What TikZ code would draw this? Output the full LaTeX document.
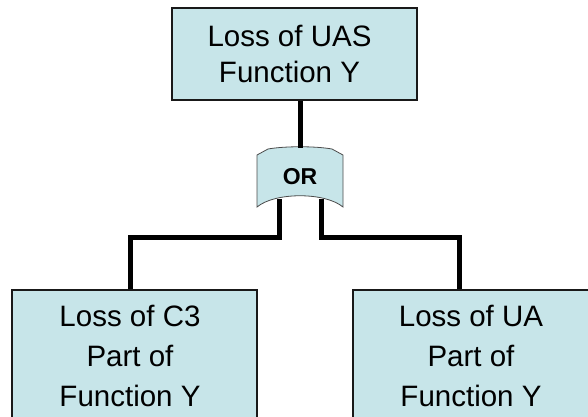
\documentclass[tikz,border=0pt]{standalone}
\usepackage{fontspec}
\newfontfamily\arial{Liberation Sans}
\definecolor{boxfill}{RGB}{199,229,233}
\definecolor{boxline}{RGB}{25,25,25}
\begin{document}
\begin{tikzpicture}[x=1pt,y=-1pt,
  box/.style={draw=boxline, line width=1.2pt, fill=boxfill, minimum width=245pt, inner sep=0pt},
  toptext/.style={font=\arial\fontsize{29.5}{36}\selectfont, align=center, inner sep=0pt},
  bottext/.style={font=\arial\fontsize{29.5}{40}\selectfont, align=center, inner sep=0pt},
  gatetext/.style={font=\arial\bfseries\fontsize{23}{27}\selectfont, inner sep=0pt, minimum width=86pt, minimum height=60pt},
  gateshape/.style={draw=black!70, line width=0.8pt, fill=boxfill},
  conn/.style={draw=black, line width=5pt, line join=miter}]
\useasboundingbox (0,0) rectangle (588,416);
\clip (0,0) rectangle (588,416);
% boxes
\node[box, minimum height=92pt] (top) at (294.5,54) {};
\node[toptext] (topT) at (289.5,54.2) {Loss of UAS\\Function Y};
\node[box, minimum height=134pt] (left) at (134.5,357) {};
\node[bottext] (leftT) at (130,356) {Loss of C3\\Part of\\Function Y};
\node[box, minimum height=134pt] (right) at (475.5,357) {};
\node[bottext] (rightT) at (471,356) {Loss of UA\\Part of\\Function Y};
% OR gate
\draw[gateshape] (257,155) -- (268,149) .. controls (285,146) and (315,146) .. (332,149)
  -- (343,155) -- (343,207) .. controls (325,192) and (275,192) .. (257,207) -- cycle;
\node[gatetext] (gate) at (300,177) {\raisebox{1.5pt}{OR}};
% connectors
\draw[conn] (top.south -| gate.north) -- ([yshift=-1pt]gate.north);
\draw[conn] ([xshift=-21pt,yshift=8pt]gate.south) -- ++(0,38) -| ([xshift=-4.5pt]left.north);
\draw[conn] ([xshift=21pt,yshift=8pt]gate.south) -- ++(0,38) -| ([xshift=-16.5pt]right.north);
\end{tikzpicture}
\end{document}
